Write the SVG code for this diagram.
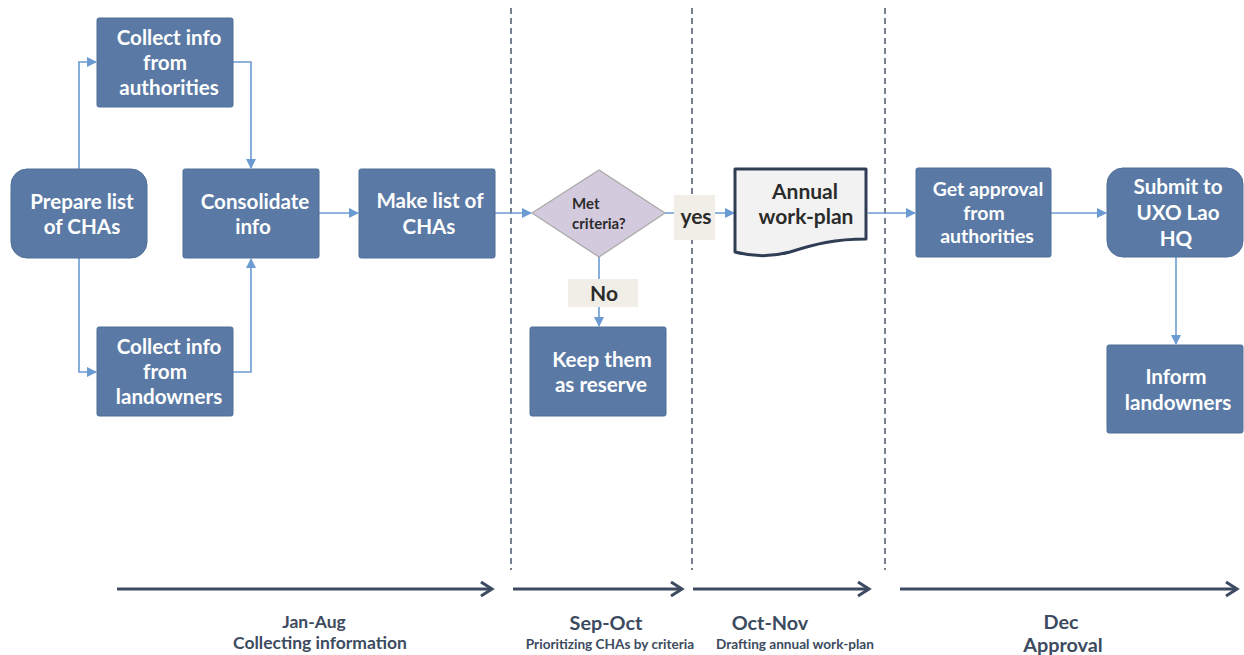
<svg xmlns="http://www.w3.org/2000/svg" width="1244" height="655" viewBox="0 0 1244 655">
<style>
.box{fill:#5a7aa5;stroke:#4f6e98;stroke-width:1}
.t{font-family:Lato,"Open Sans",sans-serif;font-weight:700;font-size:20.6px;fill:#ffffff;text-anchor:middle}
.d{fill:#2b2b2b}
.c{fill:none;stroke:#6b9bd2;stroke-width:1.6}
.dash{stroke:#3d4b60;stroke-width:1.4;stroke-dasharray:6 4}
.tl{fill:none;stroke:#3d4b60;stroke-width:3}
.tlh{fill:none;stroke:#3d4b60;stroke-width:3;stroke-linejoin:miter}
.lab{fill:#f0eee6}
.tt{font-family:Lato,"Open Sans",sans-serif;font-weight:700;fill:#3d4b60;text-anchor:middle}
</style>
<defs>
<marker id="ah" markerWidth="10" markerHeight="10" refX="9" refY="5" orient="auto" markerUnits="userSpaceOnUse">
<path d="M0,0 L10,5 L0,10 Z" fill="#6b9bd2"/>
</marker>
</defs>
<rect width="1244" height="655" fill="#ffffff"/>
<g id="dividers">
<line class="dash" x1="511" y1="8" x2="511" y2="570"/>
<line class="dash" x1="692" y1="8" x2="692" y2="570"/>
<line class="dash" x1="885" y1="8" x2="885" y2="570"/>
</g>
<g id="connectors">
<polyline class="c" points="79,169 79,62 96,62" marker-end="url(#ah)"/>
<polyline class="c" points="79,258 79,372 96,372" marker-end="url(#ah)"/>
<polyline class="c" points="233,62 251,62 251,168" marker-end="url(#ah)"/>
<polyline class="c" points="233,372 251,372 251,259" marker-end="url(#ah)"/>
<line class="c" x1="319" y1="213" x2="358" y2="213" marker-end="url(#ah)"/>
<line class="c" x1="495" y1="213" x2="531" y2="213" marker-end="url(#ah)"/>
<line class="c" x1="665" y1="213" x2="734" y2="213" marker-end="url(#ah)"/>
<line class="c" x1="599" y1="257" x2="599" y2="326" marker-end="url(#ah)"/>
<line class="c" x1="868" y1="213" x2="915" y2="213" marker-end="url(#ah)"/>
<line class="c" x1="1051" y1="213" x2="1106" y2="213" marker-end="url(#ah)"/>
<line class="c" x1="1176" y1="257" x2="1176" y2="344" marker-end="url(#ah)"/>
<g id="label-yes">
<rect class="lab" x="674" y="195" width="41" height="45"/>
<text class="t d" x="696" y="224" style="font-size:21px">yes</text>
</g>
<g id="label-no">
<rect class="lab" x="568" y="279" width="70" height="28"/>
<text class="t d" x="604" y="301" style="font-size:21px">No</text>
</g>
</g>
<g id="collect-auth">
<rect class="box" x="97" y="18" width="136" height="89" rx="2"/>
<text class="t" x="169" y="45">Collect info</text>
<text class="t" x="165" y="70">from</text>
<text class="t" x="169" y="95">authorities</text>
</g>
<g id="prepare">
<rect class="box" x="11" y="169" width="136" height="89" rx="16"/>
<text class="t" x="82" y="209">Prepare list</text>
<text class="t" x="82" y="234">of CHAs</text>
</g>
<g id="consolidate">
<rect class="box" x="183" y="169" width="136" height="89" rx="2"/>
<text class="t" x="255" y="209">Consolidate</text>
<text class="t" x="253" y="234">info</text>
</g>
<g id="collect-land">
<rect class="box" x="97" y="327" width="136" height="89" rx="2"/>
<text class="t" x="169" y="354">Collect info</text>
<text class="t" x="165" y="379">from</text>
<text class="t" x="169" y="404">landowners</text>
</g>
<g id="make-list">
<rect class="box" x="359" y="169" width="136" height="89" rx="2"/>
<text class="t" x="430" y="208">Make list of</text>
<text class="t" x="429" y="234">CHAs</text>
</g>
<g id="met-criteria">
<polygon points="532,213 599,170 665,213 599,257" fill="#d4cade" stroke="#a8a8a8" stroke-width="1.2"/>
<text class="t d" x="572" y="209" style="font-size:15px;text-anchor:start">Met</text>
<text class="t d" x="572" y="229" style="font-size:15px;text-anchor:start">criteria?</text>
</g>
<g id="keep-reserve">
<rect class="box" x="530" y="327" width="136" height="89" rx="2"/>
<text class="t" x="602" y="367">Keep them</text>
<text class="t" x="601" y="392">as reserve</text>
</g>
<g id="annual-plan">
<path d="M735,169 H866 V239 C835,239 815,244 790,252 C768,258 750,256 735,252 Z" fill="#f2f2f2" stroke="#2f3e55" stroke-width="3" stroke-linejoin="round"/>
<text class="t d" x="805" y="199" style="font-size:21px">Annual</text>
<text class="t d" x="806" y="224" style="font-size:21px">work-plan</text>
</g>
<g id="get-approval">
<rect class="box" x="916" y="168" width="135" height="89" rx="2"/>
<text class="t" x="988" y="196" style="font-size:19.4px">Get approval</text>
<text class="t" x="984" y="220" style="font-size:19.4px">from</text>
<text class="t" x="987" y="243" style="font-size:19.4px">authorities</text>
</g>
<g id="submit">
<rect class="box" x="1107" y="168" width="136" height="89" rx="16"/>
<text class="t" x="1178" y="194">Submit to</text>
<text class="t" x="1178" y="220">UXO Lao</text>
<text class="t" x="1176" y="246">HQ</text>
</g>
<g id="inform">
<rect class="box" x="1107" y="345" width="136" height="88" rx="2"/>
<text class="t" x="1176" y="384">Inform</text>
<text class="t" x="1178" y="410">landowners</text>
</g>
<g id="timeline">
<line class="tl" x1="117" y1="589" x2="491" y2="589"/>
<polyline class="tlh" points="481,582 492,589 481,596"/>
<line class="tl" x1="513" y1="589" x2="681" y2="589"/>
<polyline class="tlh" points="671,582 682,589 671,596"/>
<line class="tl" x1="693" y1="589" x2="868" y2="589"/>
<polyline class="tlh" points="858,582 869,589 858,596"/>
<line class="tl" x1="900" y1="589" x2="1236" y2="589"/>
<polyline class="tlh" points="1226,582 1237,589 1226,596"/>
<text class="tt" x="314" y="628" font-size="17.5">Jan-Aug</text>
<text class="tt" x="320" y="649" font-size="17.5">Collecting information</text>
<text class="tt" x="606" y="630" font-size="19.8">Sep-Oct</text>
<text class="tt" x="610" y="649" font-size="13.6">Prioritizing CHAs by criteria</text>
<text class="tt" x="770" y="630" font-size="19.8">Oct-Nov</text>
<text class="tt" x="795" y="649" font-size="13.6">Drafting annual work-plan</text>
<text class="tt" x="1061" y="629" font-size="19.8">Dec</text>
<text class="tt" x="1063" y="652" font-size="19.8">Approval</text>
</g>
</svg>
